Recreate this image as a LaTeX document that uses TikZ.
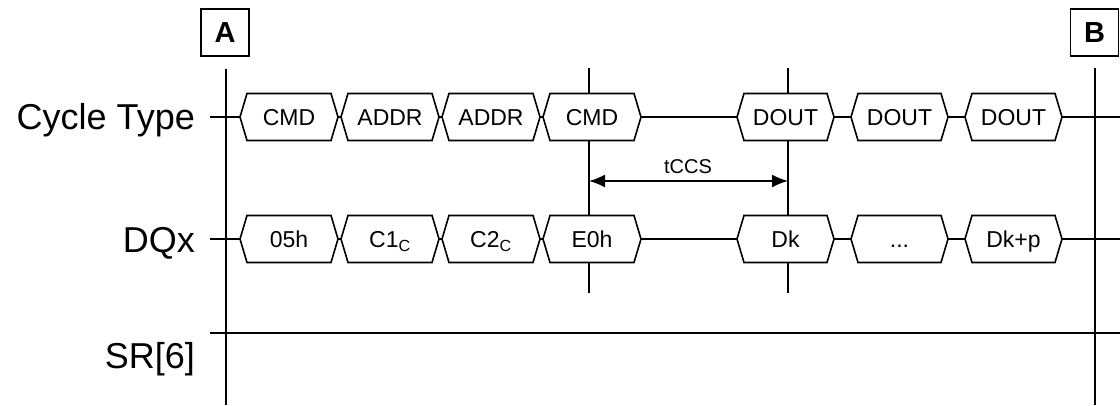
\documentclass[tikz,border=0pt]{standalone}
\usepackage{fontspec}
\setmainfont{Liberation Sans}
\usetikzlibrary{arrows.meta}
% name, x left point, x right point, y centre, text
\newcommand{\busbox}[5]{%
  \draw[bus] (#2,#4) -- (#2+7,#4-23.5) -- (#3-7,#4-23.5) -- (#3,#4) -- (#3-7,#4+23.5) -- (#2+7,#4+23.5) -- cycle;
  \node[boxtext] (#1) at ({(#2+#3)/2},#4+8.5) {#5};
}
\begin{document}
\begin{tikzpicture}[x=1pt,y=-1pt,
  bus/.style={draw=black, fill=white, line width=1.6pt, line join=miter},
  boxtext/.style={anchor=base, inner sep=0pt, font=\fontsize{23}{26}\selectfont},
  siglabel/.style={anchor=base east, inner sep=0pt, font=\fontsize{36}{40}\selectfont},
  marker/.style={draw, line width=1.6pt, minimum width=48pt, minimum height=47pt, inner sep=0pt, font=\fontsize{29}{32}\selectfont\bfseries},
  wire/.style={line width=1.6pt},
  dimlabel/.style={anchor=base, inner sep=0pt, font=\fontsize{20}{24}\selectfont},
  dimarrow/.style={line width=1.6pt, {Latex[length=16pt,width=13pt]}-{Latex[length=16pt,width=13pt]}}]
\useasboundingbox (0,0) rectangle (1120,405);
\fill[white] (0,0) rectangle (1120,405);

% markers
\node[marker] (A) at (225,32.5) {A};
\node[marker] (B) at (1094.5,32.5) {B};

% signal labels
\node[siglabel] (lct) at (195,129) {Cycle Type};
\node[siglabel] (ldq) at (195,252) {DQx};
\node[siglabel] (lsr) at (195,368) {SR[6]};

% coordinates
\coordinate (Atop) at (226,69);
\coordinate (Abot) at (226,405);
\coordinate (Btop) at (1095,68);
\coordinate (Bbot) at (1095,405);
\coordinate (Ctop) at (589,68);
\coordinate (Cbot) at (589,293);
\coordinate (Dtop) at (788,68);
\coordinate (Dbot) at (788,293);
\coordinate (ctS) at (210,117);
\coordinate (ctE) at (1120,117);
\coordinate (dqS) at (210,239);
\coordinate (dqE) at (1120,239);
\coordinate (srS) at (210,333);
\coordinate (srE) at (1120,333);
\coordinate (arL) at (589,181);
\coordinate (arR) at (788,181);

% vertical reference lines
\draw[wire] (Atop) -- (Abot);
\draw[wire] (Btop) -- (Bbot);
\draw[wire] (Ctop) -- (Cbot);
\draw[wire] (Dtop) -- (Dbot);

% signal lines
\draw[wire] (ctS) -- (ctE);
\draw[wire] (dqS) -- (dqE);
\draw[wire] (srS) -- (srE);

% Cycle Type row
\busbox{c1}{240}{338}{117}{CMD}
\busbox{c2}{341}{439}{117}{ADDR}
\busbox{c3}{442}{540}{117}{ADDR}
\busbox{c4}{543}{641}{117}{CMD}
\busbox{c5}{737}{834}{117}{DOUT}
\busbox{c6}{851}{948}{117}{DOUT}
\busbox{c7}{965}{1062}{117}{DOUT}

% DQx row
\busbox{d1}{240}{338}{239}{05h}
\busbox{d2}{341}{439}{239}{C1\textsubscript{C}}
\busbox{d3}{442}{540}{239}{C2\textsubscript{C}}
\busbox{d4}{543}{641}{239}{E0h}
\busbox{d5}{737}{834}{239}{Dk}
\busbox{d6}{851}{948}{239}{...}
\busbox{d7}{965}{1062}{239}{Dk+p}

% tCCS
\draw[dimarrow] (arL) -- (arR);
\node[dimlabel] (tccs) at (688,173) {tCCS};
\end{tikzpicture}
\end{document}
